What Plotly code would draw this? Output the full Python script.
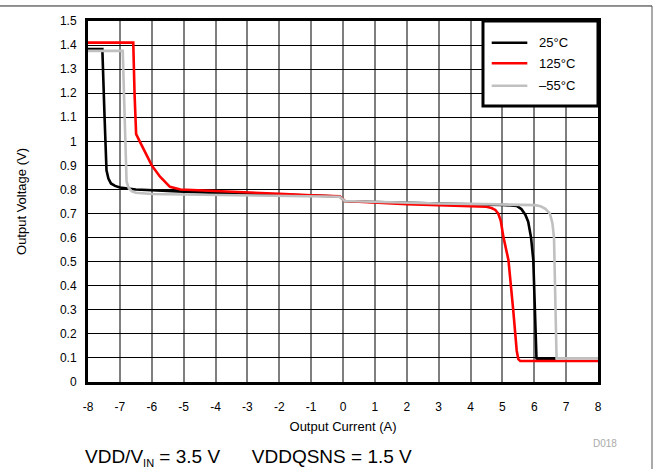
import plotly.graph_objects as go

# ---- data ----
series_names = ["25°C", "125°C", "\u201355°C"]
series_colors = ["#000000", "#ff0000", "#c0c0c0"]

t25_current = [-8, -7.55, -7.48, -7.42, -7.36, -7.28, -7.15, -7.0, -6.5, -6.0, -5.0, -4.0, -3.0,
               -2.0, -1.0, -0.1, 0.05, 1.0, 2.0, 3.0, 4.0, 5.0, 5.45, 5.6, 5.72, 5.81, 5.9, 5.97,
               6.02, 6.07, 6.12, 6.68]
t25_voltage = [1.383, 1.383, 1.1, 0.88, 0.845, 0.825, 0.815, 0.808, 0.800, 0.796, 0.791, 0.786,
               0.783, 0.779, 0.775, 0.771, 0.752, 0.748, 0.744, 0.741, 0.738, 0.736, 0.732, 0.718,
               0.695, 0.666, 0.60, 0.507, 0.30, 0.098, 0.095, 0.095]

t125_current = [-8, -6.58, -6.54, -6.49, -6.37, -6.2, -6.0, -5.74, -5.55, -5.43, -5.1, -4.8, -4.0,
                -3.0, -2.0, -1.0, -0.1, 0.05, 1.0, 2.0, 3.0, 4.0, 4.5, 4.66, 4.78, 4.87, 4.95,
                5.03, 5.19, 5.34, 5.45, 5.5, 5.56, 8.0]
t125_voltage = [1.41, 1.41, 1.2, 1.03, 0.998, 0.955, 0.90, 0.853, 0.825, 0.811, 0.80, 0.798,
                0.794, 0.788, 0.782, 0.776, 0.772, 0.752, 0.745, 0.739, 0.735, 0.731, 0.728,
                0.723, 0.715, 0.70, 0.67, 0.604, 0.507, 0.30, 0.13, 0.095, 0.087, 0.087]

tm55_current = [-8, -6.91, -6.85, -6.79, -6.72, -6.62, -6.5, -6.3, -6.0, -5.0, -4.0, -3.0, -2.0,
                -1.0, -0.1, 0.05, 1.0, 2.0, 3.0, 4.0, 5.0, 6.02, 6.2, 6.35, 6.49, 6.57, 6.62,
                6.66, 6.7, 8.0]
tm55_voltage = [1.376, 1.376, 1.1, 0.832, 0.805, 0.792, 0.786, 0.783, 0.781, 0.779, 0.777,
                0.775, 0.773, 0.772, 0.770, 0.752, 0.748, 0.745, 0.742, 0.740, 0.738, 0.735,
                0.730, 0.72, 0.70, 0.66, 0.60, 0.35, 0.098, 0.098]

x_tick_values = [-8, -7, -6, -5, -4, -3, -2, -1, 0, 1, 2, 3, 4, 5, 6, 7, 8]
x_tick_labels = ["-8", "-7", "-6", "-5", "-4", "-3", "-2", "-1", "0", "1", "2", "3", "4",
                 "5", "6", "7", "8"]
y_tick_values = [0, 0.1, 0.2, 0.3, 0.4, 0.5, 0.6, 0.7, 0.8, 0.9, 1.0, 1.1, 1.2, 1.3, 1.4, 1.5]
y_tick_labels = ["0", "0.1", "0.2", "0.3", "0.4", "0.5", "0.6", "0.7", "0.8", "0.9", "1",
                 "1.1", "1.2", "1.3", "1.4", "1.5"]

x_title = "Output Current (A)"
y_title = "Output Voltage (V)"
footnote = ("VDD/V<sub><span style='font-size:11px'>IN</span></sub> = 3.5 V"
            "\u00a0\u00a0\u00a0\u00a0\u00a0\u00a0VDDQSNS = 1.5 V")
figure_code = "D018"

FONT = "Liberation Sans, Arial, sans-serif"

fig = go.Figure()
all_x = [t25_current, t125_current, tm55_current]
all_y = [t25_voltage, t125_voltage, tm55_voltage]
for name, color, xs, ys in zip(series_names, series_colors, all_x, all_y):
    fig.add_trace(go.Scatter(x=xs, y=ys, mode="lines", name=name,
                             line=dict(color=color, width=2.6), showlegend=False))

fig.update_layout(
    width=656, height=469,
    margin=dict(l=88, r=58, t=21, b=87),
    paper_bgcolor="white", plot_bgcolor="white",
    font=dict(family=FONT, color="black", size=12),
    showlegend=False,
)
fig.update_xaxes(
    range=[-8, 8], tickmode="array", tickvals=x_tick_values, ticktext=x_tick_labels,
    showgrid=True, gridcolor="#7f7f7f", gridwidth=2, zeroline=False,
    showline=True, linecolor="black", linewidth=3, mirror=True,
    ticks="", ticklabelstandoff=12, tickfont=dict(size=12),
    title=dict(text=x_title, font=dict(size=13), standoff=9),
)
fig.update_yaxes(
    range=[0, 1.5], tickmode="array", tickvals=y_tick_values, ticktext=y_tick_labels,
    showgrid=True, gridcolor="black", gridwidth=1, zeroline=False,
    showline=True, linecolor="black", linewidth=3, mirror=True,
    ticks="", ticklabelstandoff=6, tickfont=dict(size=12),
    title=dict(text=y_title, font=dict(size=13), standoff=31),
)

# outer frame (top and right edges)
fig.add_shape(type="line", xref="paper", yref="paper", x0=-0.1726, x1=1.1059,
              y0=1.0416, y1=1.0416, line=dict(color="#222222", width=1))
fig.add_shape(type="line", xref="paper", yref="paper", x0=1.1059, x1=1.1059,
              y0=1.0416, y1=-0.25, line=dict(color="#555555", width=1))

# legend box
lg_x0, lg_x1, lg_y0, lg_y1 = 0.7745, 1.0, 0.7645, 1.0
fig.add_shape(type="rect", xref="paper", yref="paper", x0=lg_x0, x1=lg_x1, y0=lg_y0, y1=lg_y1,
              line=dict(color="black", width=3), fillcolor="white", layer="above")
legend_rows = [0.9399, 0.8828, 0.8208]
for name, color, yy in zip(series_names, series_colors, legend_rows):
    fig.add_shape(type="line", xref="paper", yref="paper", x0=0.7916, x1=0.8614, y0=yy, y1=yy,
                  line=dict(color=color, width=2.6), layer="above")
    fig.add_annotation(xref="paper", yref="paper", x=0.8804, y=yy, text=name, showarrow=False,
                       xanchor="left", yanchor="middle", font=dict(size=13, color="black"))

fig.add_annotation(xref="paper", yref="paper", x=-0.0098, y=-0.2078, text=footnote,
                   showarrow=False, xanchor="left", yanchor="middle",
                   font=dict(size=19, color="black"))
fig.add_annotation(xref="paper", yref="paper", x=1.0137, y=-0.169, text=figure_code,
                   showarrow=False, xanchor="center", yanchor="middle",
                   font=dict(size=10, color="#aaaaaa"))

fig.write_html("out.html", config={"displayModeBar": False},
               post_script="document.body.style.margin='0px';document.body.style.padding='0px';")
